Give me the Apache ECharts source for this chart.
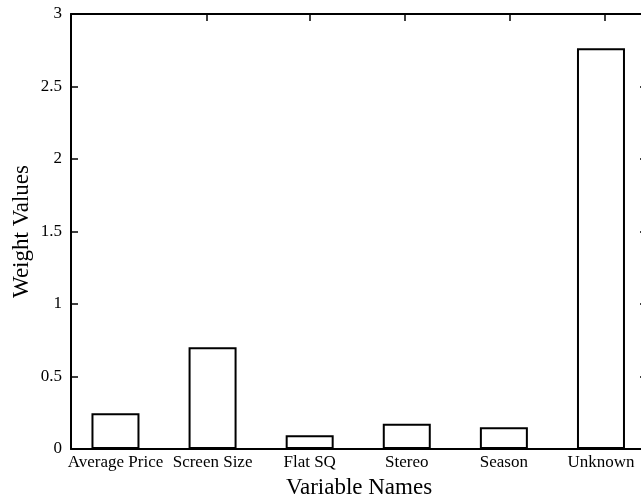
<!DOCTYPE html>
<html>
<head>
<meta charset="utf-8">
<script src="https://cdn.jsdelivr.net/npm/echarts@6/dist/echarts.min.js"></script>
<style>html,body{margin:0;padding:0;background:#fff}#c{width:641px;height:494px}</style>
</head>
<body>
<div id="c"></div>
<script>
const categories = ["Average Price", "Screen Size", "Flat SQ", "Stereo", "Season", "Unknown"];
const positions = [1, 2, 3, 4, 5, 6];
const weights = [0.246, 0.701, 0.094, 0.175, 0.15, 2.763];
const xTickPositions = [1.94, 3.0, 3.98, 5.06, 6.04];
const yTicks = [0, 0.5, 1, 1.5, 2, 2.5, 3];

const FONT = "Liberation Serif";
const chart = echarts.init(document.getElementById('c'), null, {renderer: 'canvas'});
const axisLine = {show: true, onZero: false, lineStyle: {color: '#000', width: 2}};
const tick = {show: true, inside: true, length: 7, lineStyle: {color: '#000', width: 1.5}};
chart.setOption({
  animation: false,
  backgroundColor: '#fff',
  grid: {left: 71, top: 14, right: -6, bottom: 45, containLabel: false, outerBoundsMode: 'none'},
  xAxis: [{
    type: 'value', min: 0.542, max: 6.474, position: 'bottom',
    name: 'Variable Names', nameLocation: 'middle', nameGap: 27, nameMoveOverlap: false,
    nameTextStyle: {fontFamily: FONT, fontSize: 23, color: '#000'},
    axisLine: axisLine,
    axisTick: Object.assign({customValues: xTickPositions}, tick),
    axisLabel: {customValues: positions, margin: 5, fontFamily: FONT, fontSize: 17, color: '#000',
      formatter: v => categories[Math.round(v) - 1]},
    splitLine: {show: false}
  }, {
    type: 'value', min: 0.542, max: 6.474, position: 'top',
    axisLine: axisLine,
    axisTick: Object.assign({customValues: xTickPositions}, tick),
    axisLabel: {show: false},
    splitLine: {show: false}
  }],
  yAxis: [{
    type: 'value', min: 0, max: 3, interval: 0.5, position: 'left',
    name: 'Weight Values', nameLocation: 'middle', nameGap: 38, nameRotate: 90, nameMoveOverlap: false,
    nameTextStyle: {fontFamily: FONT, fontSize: 23, color: '#000'},
    axisLine: axisLine, axisTick: tick,
    axisLabel: {margin: 9, fontFamily: FONT, fontSize: 17, color: '#000', formatter: v => String(v)},
    splitLine: {show: false}
  }, {
    type: 'value', min: 0, max: 3, interval: 0.5, position: 'right',
    axisLine: axisLine, axisTick: tick, axisLabel: {show: false}, splitLine: {show: false}
  }],
  series: [{
    type: 'bar',
    xAxisIndex: 0, yAxisIndex: 0,
    barWidth: 48,
    data: positions.map((p, i) => [p, weights[i]]),
    itemStyle: {color: '#fff', borderColor: '#000', borderWidth: 2},
    emphasis: {disabled: true}
  }]
});
</script>
</body>
</html>
